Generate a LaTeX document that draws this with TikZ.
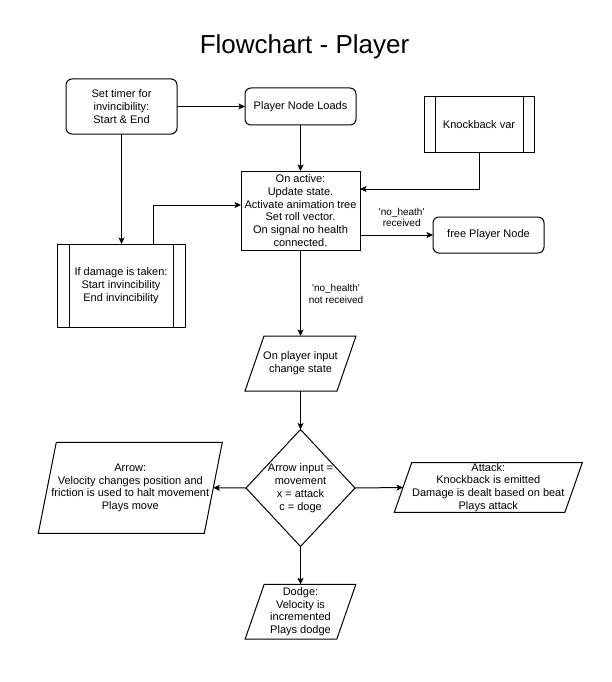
\documentclass[tikz,border=0pt]{standalone}
\usepackage{fontspec}
\setmainfont{Liberation Sans}
\usetikzlibrary{arrows.meta,calc}
\newcommand\paraoutline[2]{\draw[outl] (#1.south west) -- ([xshift=#2pt]#1.north west) -- (#1.north east) -- ([xshift=-#2pt]#1.south east) -- cycle;}
\begin{document}
\begin{tikzpicture}[x=1pt,y=-1pt,
  every node/.style={font=\fontsize{11}{12.8}\selectfont, align=center, inner sep=0pt, outer sep=0pt},
  outl/.style={draw=black, line width=1pt},
  rbox/.style={draw=black, line width=1pt, rounded corners=6pt},
  pbox/.style={draw=black, line width=1pt},
  arr/.style={line width=1pt, -{Stealth[length=6.5pt,width=6pt,inset=1.5pt]}},
  lbl/.style={font=\fontsize{10}{11.6}\selectfont},
  ttl/.style={font=\fontsize{26}{30}\selectfont, anchor=base}
]
\useasboundingbox (0,0) rectangle (612,682);

\node[ttl] (title) at (304.5,54) {Flowchart - Player};

\node[rbox, minimum width=111pt, minimum height=55pt] (timer) at (121.5,106.5) {Set timer for\\invincibility:\\Start \& End};
\node[rbox, minimum width=111pt, minimum height=37pt] (load) at (300.5,106.5) {Player Node Loads};
\node[pbox, minimum width=110pt, minimum height=55pt] (kb) at (479,124.5) {Knockback var};
\node[pbox, minimum width=119pt, minimum height=79pt] (act) at (300.5,210.5) {On active:\\Update state.\\Activate animation tree\\Set roll vector.\\On signal no health\\connected.};
\node[rbox, minimum width=111pt, minimum height=36pt] (free) at (488.5,235) {free Player Node};
\node[pbox, minimum width=128pt, minimum height=83pt] (dmg) at (121,285.5) {If damage is taken:\\Start invincibility\\End invincibility};

\draw[outl] ([xshift=11pt]kb.north west) -- ([xshift=11pt]kb.south west);
\draw[outl] ([xshift=-11pt]kb.north east) -- ([xshift=-11pt]kb.south east);
\draw[outl] ([xshift=12pt]dmg.north west) -- ([xshift=12pt]dmg.south west);
\draw[outl] ([xshift=-12pt]dmg.north east) -- ([xshift=-12pt]dmg.south east);

\node[minimum width=111pt, minimum height=55pt] (input) at (300.5,363.5) {On player input\\change state};
\node[minimum width=109pt, minimum height=117pt] (dec) at (300.5,488) {Arrow input =\\movement\\x = attack\\c = doge};
\node[minimum width=184pt, minimum height=91pt] (move) at (130.3,487.8) {Arrow:\\Velocity changes position and\\friction is used to halt movement\\Plays move};
\node[minimum width=188pt, minimum height=49.6pt] (atk) at (488.3,487.5) {Attack:\\Knockback is emitted\\Damage is dealt based on beat\\Plays attack};
\node[minimum width=110.7pt, minimum height=54.7pt] (dodge) at (300.5,611.7) {Dodge:\\Velocity is\\incremented\\Plays dodge};

\paraoutline{input}{19}
\paraoutline{move}{18}
\paraoutline{atk}{17.4}
\paraoutline{dodge}{19}
\draw[outl] (dec.north) -- (dec.east) -- (dec.south) -- (dec.west) -- cycle;

% connectors
\draw[arr] (timer.east) -- (load.west);
\draw[arr] (timer.south) -- (timer.south |- dmg.north);
\draw[arr] (load.south) -- (act.north);
\coordinate (kbturn) at (479,189);
\draw[arr] (kb.south) -- (kbturn) -- (kbturn -| act.east);
\coordinate (dmgturn) at (153,205);
\draw[arr] ([xshift=32pt]dmg.north) -- (dmgturn) -- (dmgturn -| act.west);
\draw[arr] (act.east |- free.west) -- (free.west);
\node[lbl] (lblrec) at (401.7,217.5) {\textquotesingle no\_heath\textquotesingle\\received};
\draw[arr] (act.south) -- (input.north);
\node[lbl] (lblnot) at (336,293.8) {\textquotesingle no\_health\textquotesingle\\not received};
\draw[arr] (input.south) -- (dec.north);
\draw[arr] (dec.west) -- ([xshift=-9pt]move.east);
\draw[arr] (dec.east) -- ([xshift=8.7pt]atk.west);
\draw[arr] (dec.south) -- (dodge.north);
\end{tikzpicture}
\end{document}
